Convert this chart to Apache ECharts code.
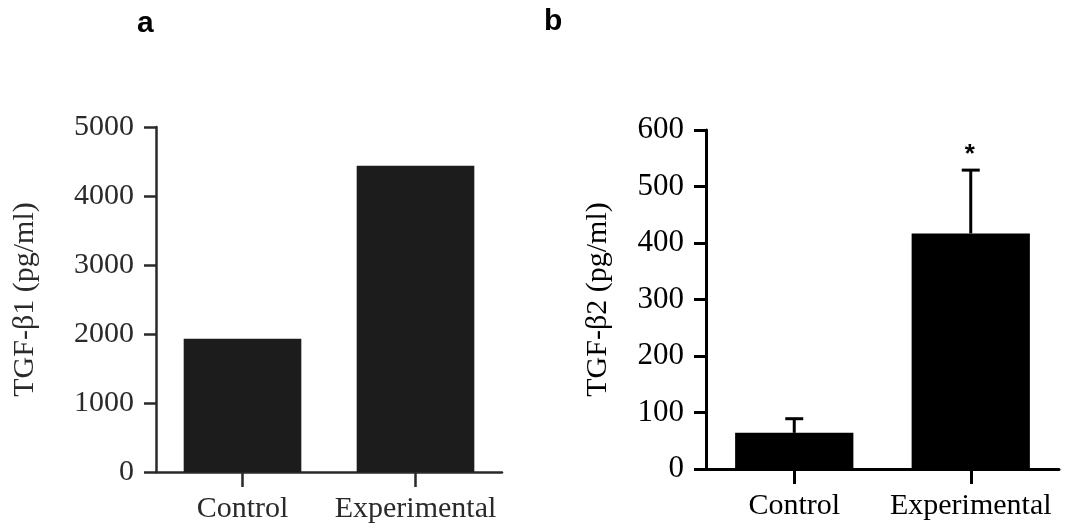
<!DOCTYPE html>
<html><head><meta charset="utf-8">
<script src="https://cdn.jsdelivr.net/npm/echarts@6/dist/echarts.min.js"></script>
<style>html,body{margin:0;padding:0;background:#fff}#c{width:1066px;height:530px}</style>
</head><body><div id="c"></div>
<script>
const categories = ['Control', 'Experimental'];
const tgfB1 = [1930, 4440];
const tgfB2 = [64, 417];
const tgfB2Err = [25, 112];
const tgfB2Sig = ['', '*'];
const ticksA = [0, 1000, 2000, 3000, 4000, 5000];
const ticksB = [0, 100, 200, 300, 400, 500, 600];

const serif = '"Liberation Serif", "DejaVu Serif", serif';
const chart = echarts.init(document.getElementById('c'), null, {renderer: 'canvas'});

function yAx(idx, max, interval, name, gap, col, lw, fs) {
  return {
    type: 'value', gridIndex: idx, min: 0, max: max, interval: interval,
    name: name, nameLocation: 'middle', nameGap: gap, nameRotate: 90,
    nameTextStyle: {fontFamily: serif, fontSize: 30, color: col},
    axisLine: {show: true, lineStyle: {color: col, width: lw}},
    axisTick: {show: true, length: 12, lineStyle: {color: col, width: lw}},
    axisLabel: {fontFamily: serif, fontSize: fs, color: col, margin: 22,
      formatter: function (v) { return String(v); }},
    splitLine: {show: false}
  };
}
function xAx(idx, col, lw) {
  return {
    type: 'category', gridIndex: idx, data: categories,
    axisLine: {show: true, lineStyle: {color: col, width: lw}},
    axisTick: {show: true, alignWithLabel: true, length: 15, lineStyle: {color: col, width: lw}},
    axisLabel: {fontFamily: serif, fontSize: 30, color: col, margin: 22, interval: 0, hideOverlap: false},
    splitLine: {show: false}
  };
}

chart.setOption({
  animation: false,
  backgroundColor: '#fff',
  graphic: [
    {type: 'text', left: 137, top: 9, style: {text: 'a', font: 'bold 30px "Liberation Sans", Arial, sans-serif', fill: '#000'}},
    {type: 'text', left: 544, top: 7, style: {text: 'b', font: 'bold 30px "Liberation Sans", Arial, sans-serif', fill: '#000'}}
  ],
  grid: [
    {left: 156, right: 564, top: 127, bottom: 58},
    {left: 706, right: 7, top: 130, bottom: 61}
  ],
  xAxis: [xAx(0, '#2a2a2a', 2.5), xAx(1, '#000', 3)],
  yAxis: [
    yAx(0, 5000, 1000, 'TGF-β1 (pg/ml)', 116, '#2a2a2a', 2.5, 30),
    yAx(1, 600, 100, 'TGF-β2 (pg/ml)', 93, '#000', 3, 31)
  ],
  series: [
    {type: 'bar', xAxisIndex: 0, yAxisIndex: 0, data: tgfB1, barWidth: '68%',
     itemStyle: {color: '#1c1c1c'}},
    {type: 'bar', xAxisIndex: 1, yAxisIndex: 1, data: tgfB2, barWidth: '67%',
     itemStyle: {color: '#000'}},
    {type: 'custom', xAxisIndex: 1, yAxisIndex: 1, z: 1,
     data: tgfB2.map((v, i) => [i, v, v + tgfB2Err[i], tgfB2Sig[i]]),
     renderItem: function (params, api) {
       const base = api.coord([api.value(0), api.value(1)]);
       const top = api.coord([api.value(0), api.value(2)]);
       const hw = 9;
       const children = [
         {type: 'line', shape: {x1: base[0], y1: base[1], x2: top[0], y2: top[1]}, style: {stroke: '#000', lineWidth: 3}},
         {type: 'line', shape: {x1: top[0] - hw, y1: top[1], x2: top[0] + hw, y2: top[1]}, style: {stroke: '#000', lineWidth: 3}}
       ];
       const sig = tgfB2Sig[params.dataIndex];
       if (sig) {
         children.push({type: 'text', x: top[0] - 6, y: top[1] - 28,
           style: {text: sig, font: 'bold 26px "Liberation Sans", Arial, sans-serif', fill: '#000'}});
       }
       return {type: 'group', children: children};
     }}
  ]
});
</script></body></html>
